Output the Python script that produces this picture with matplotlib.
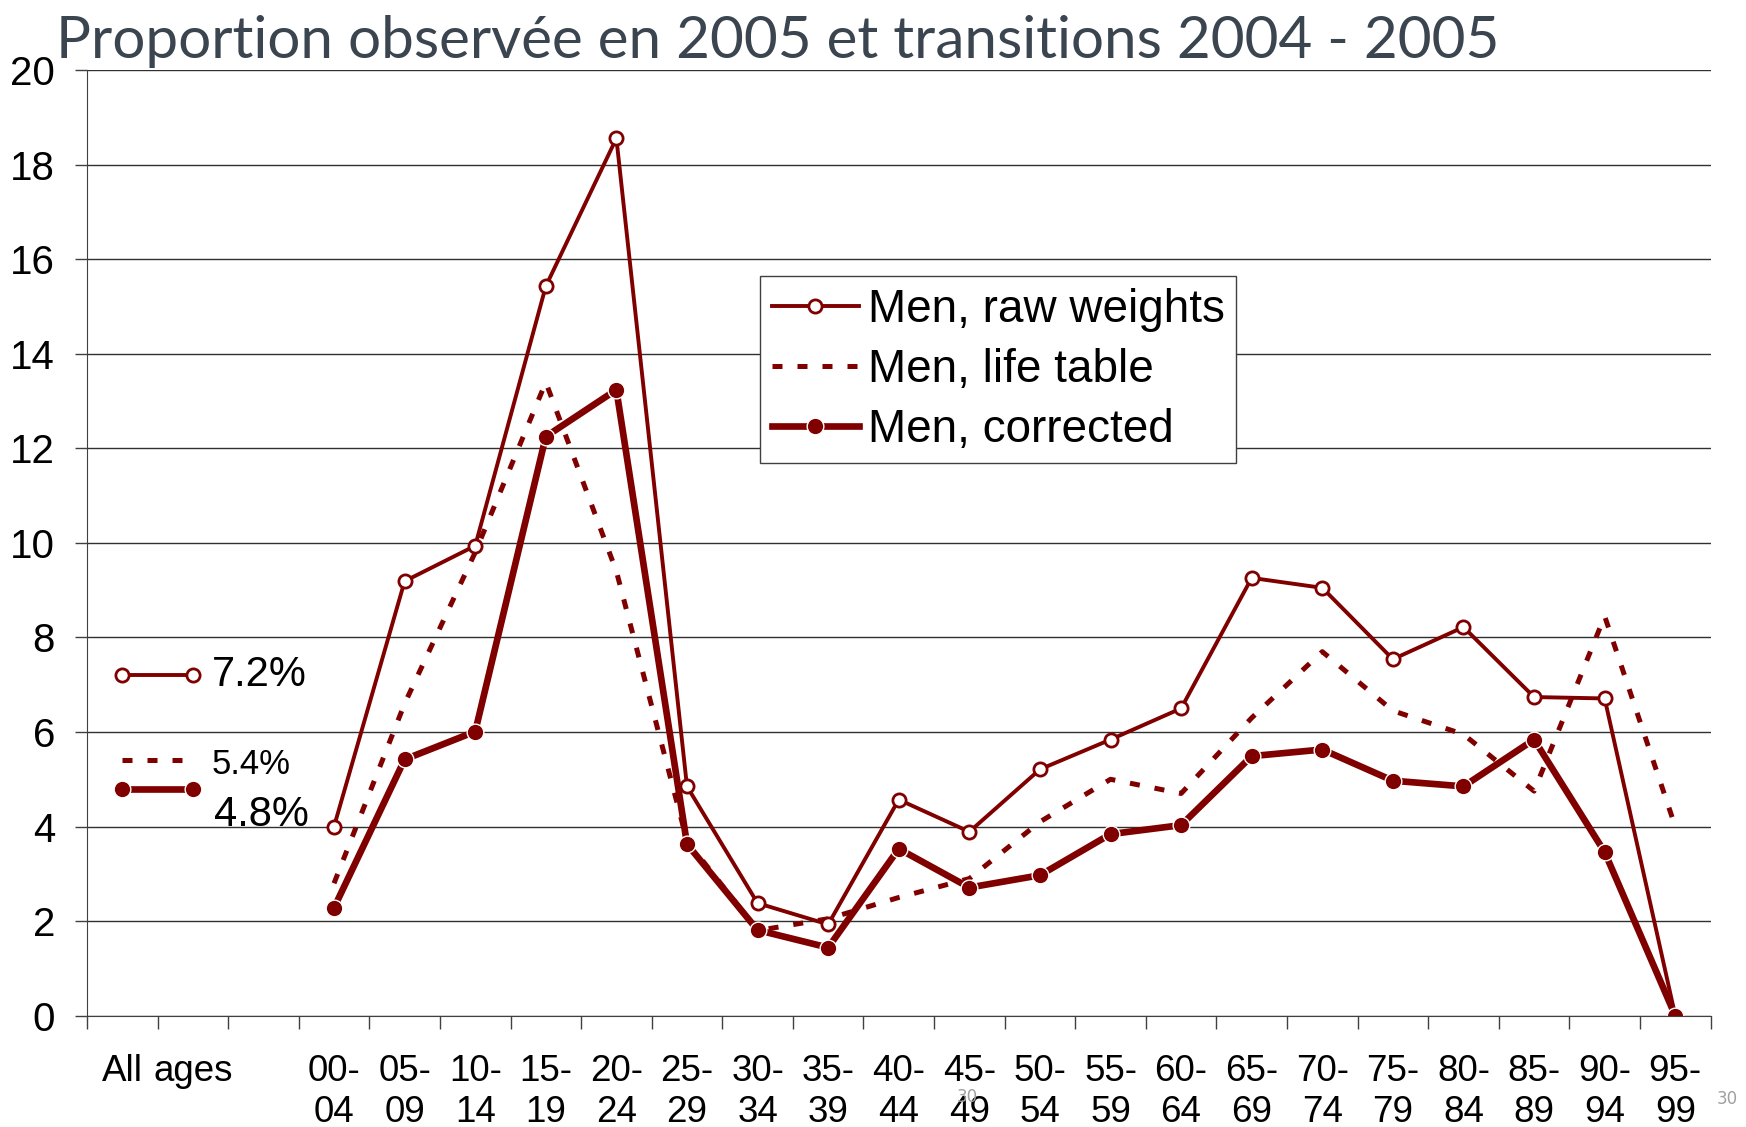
import matplotlib
matplotlib.use("Agg")
import matplotlib.pyplot as plt
import numpy as np

# categories on the x axis (3 slots for "All ages", then 20 age groups)
categories = ["All\n ", "ages\n ", "\n ",
              "00-\n04", "05-\n09", "10-\n14", "15-\n19", "20-\n24", "25-\n29",
              "30-\n34", "35-\n39", "40-\n44", "45-\n49", "50-\n54", "55-\n59",
              "60-\n64", "65-\n69", "70-\n74", "75-\n79", "80-\n84", "85-\n89",
              "90-\n94", "95-\n99"]

# values per age group (00-04 .. 95-99)
raw_weights = [4.0, 9.19, 9.94, 15.43, 18.56, 4.85, 2.38, 1.93, 4.57, 3.89,
               5.21, 5.84, 6.50, 9.26, 9.05, 7.54, 8.22, 6.74, 6.71, 0.0]
life_table = [2.8, 6.6, 9.8, 13.4, 9.4, 3.7, 1.8, 2.05, 2.5, 2.9,
              4.1, 5.0, 4.7, 6.3, 7.7, 6.45, 5.95, 4.75, 8.45, 4.0]
corrected = [2.28, 5.42, 6.01, 12.25, 13.24, 3.63, 1.81, 1.44, 3.53, 2.71,
             2.97, 3.84, 4.03, 5.49, 5.63, 4.97, 4.85, 5.84, 3.46, 0.0]

# "All ages" values
all_raw = 7.2
all_life = 5.4
all_corr = 4.8

red = "#800000"

fig = plt.figure(figsize=(17.46, 11.27), dpi=100)
ax = fig.add_axes([0.0498, 0.0988, 0.9299, 0.8389])

x_age = np.arange(3, 3 + len(raw_weights))
x_all = np.array([0, 1])

raw_style = dict(color=red, lw=2.8, marker="o", ms=9.5, mfc="white", mec=red, mew=2)
life_style = dict(color=red, lw=3.6, ls=(0, (2.0, 3.0)))
corr_style = dict(color=red, lw=4.8, marker="o", ms=12, mfc=red, mec="white", mew=1)

ax.plot(x_age, life_table, label="Men, life table", **life_style)
ax.plot(x_age, raw_weights, label="Men, raw weights", **raw_style)
ax.plot(x_age, corrected, label="Men, corrected", **corr_style)

ax.plot(x_all, [all_raw] * 2, **raw_style)
ax.plot(x_all, [all_life] * 2, **life_style)
ax.plot(x_all, [all_corr] * 2, **corr_style)

ax.text(1.27, all_raw, f"{all_raw}%", fontsize=30, va="center", ha="left",
        family="Liberation Sans")
ax.text(1.27, all_life - 0.08, f"{all_life}%", fontsize=25, va="center", ha="left",
        family="Liberation Sans")
ax.text(1.30, 4.25, f"{all_corr}%", fontsize=30, va="center", ha="left",
        family="Liberation Sans")

ax.set_xlim(-0.5, len(categories) - 0.5)
ax.set_ylim(0, 20)

ax.set_xticks(np.arange(len(categories)))
ax.set_xticklabels(categories, family=["Liberation Sans Narrow", "Liberation Sans"],
                   fontsize=26.5, linespacing=1.22)
ax.set_xticks(np.arange(-0.5, len(categories)), minor=True)
ax.tick_params(axis="x", which="major", length=0, pad=27.5)
ax.tick_params(axis="x", which="minor", length=9, width=1, color="#404040")

ax.set_yticks(np.arange(0, 21, 2))
ax.set_yticklabels([str(v) for v in range(0, 21, 2)],
                   family=["Liberation Sans Narrow", "Liberation Sans"], fontsize=29)
ax.tick_params(axis="y", length=9, width=1, color="#404040", pad=14)

ax.grid(axis="y", color="#303030", lw=1)
ax.set_axisbelow(True)
for side in ["top", "right"]:
    ax.spines[side].set_visible(False)
ax.spines["left"].set_color("#404040")
ax.spines["bottom"].set_color("#404040")

handles, labels = ax.get_legend_handles_labels()
order = [1, 0, 2]
leg = ax.legend([handles[i] for i in order], [labels[i] for i in order],
                loc="upper left", bbox_to_anchor=(0.4146, 0.782), borderaxespad=0,
                prop={"family": "Liberation Sans", "size": 33}, fancybox=False,
                edgecolor="#404040", framealpha=1, handlelength=1.9,
                handletextpad=0.2, labelspacing=0.35, borderpad=0.25)
leg.get_frame().set_linewidth(1)

fig.text(0.032, 1 - 58 / 1127, "Proportion observée en 2005 et transitions 2004 - 2005",
         fontsize=42, color="#3a4550", family="Lato", va="baseline", ha="left")

fig.text(967 / 1746, 1 - 1097 / 1127, "30", fontsize=12, color="#a0a0a0",
         ha="center", va="center")
fig.text(1727 / 1746, 1 - 1099 / 1127, "30", fontsize=12, color="#a0a0a0",
         ha="center", va="center")

fig.savefig("out.png", dpi=100)
